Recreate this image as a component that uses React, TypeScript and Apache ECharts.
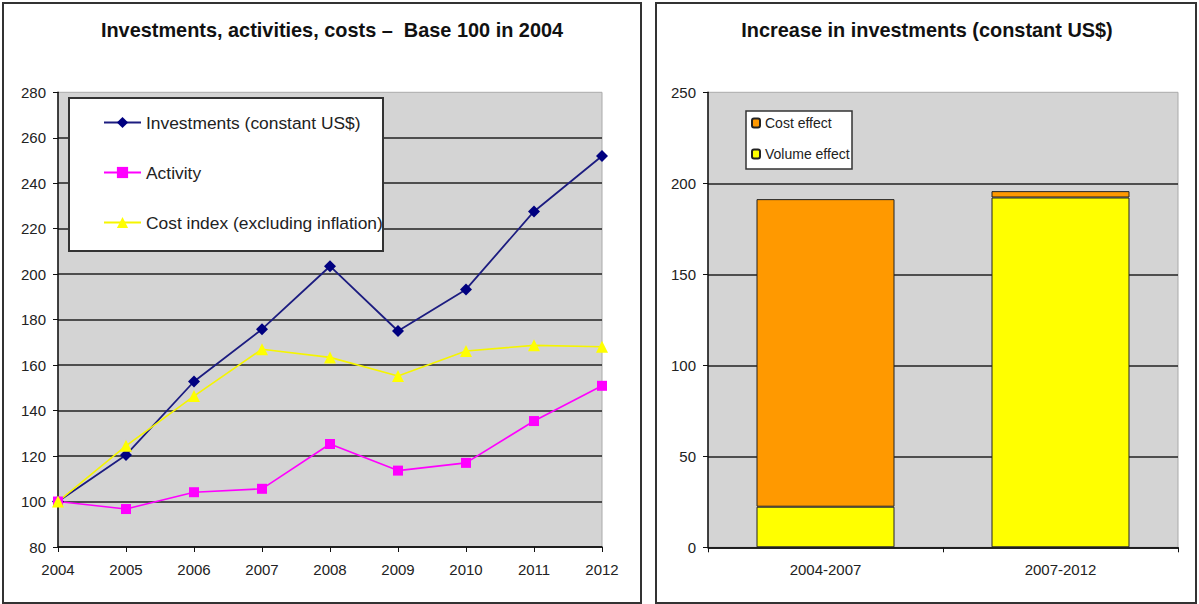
import React, { useEffect, useRef } from "react";
import * as echarts from "echarts";

const years = ["2004", "2005", "2006", "2007", "2008", "2009", "2010", "2011", "2012"];
const investments = [100, 120.5, 152.8, 175.8, 203.5, 175.0, 193.3, 227.6, 252.0];
const activity = [100, 96.7, 104.1, 105.6, 125.3, 113.6, 117.0, 135.4, 150.9];
const costIndex = [100, 124.5, 146.4, 167.0, 163.4, 155.2, 166.2, 168.7, 168.1];

const periods = ["2004-2007", "2007-2012"];
const volumeEffect = [22.3, 192.2];
const costEffect = [169.0, 3.5];

const FONT = 'Arial, "Liberation Sans", sans-serif';
const GRID_DARK = "#222";

export default function App() {
  const ref = useRef<HTMLDivElement>(null);
  useEffect(() => {
    if (!ref.current) return;
    const chart = echarts.init(ref.current, null, { renderer: "svg" });
    const leftSplitColors = Array.from({ length: 11 }, (_, i) => (i === 10 ? "transparent" : GRID_DARK));
    const rightSplitColors = Array.from({ length: 6 }, (_, i) => (i === 5 ? "transparent" : GRID_DARK));
    chart.setOption({
      animation: false,
      backgroundColor: "#fff",
      textStyle: { fontFamily: FONT },
      graphic: [
        {
          type: "rect",
          shape: { x: 3, y: 3, width: 638, height: 600 },
          style: { fill: "none", stroke: "#333", lineWidth: 2 },
          z: 100,
        },
        {
          type: "rect",
          shape: { x: 656, y: 3, width: 540, height: 600 },
          style: { fill: "none", stroke: "#333", lineWidth: 2 },
          z: 100,
        },
        {
          type: "rect",
          shape: { x: 69, y: 98, width: 314, height: 153 },
          style: { fill: "#fff", stroke: "#333", lineWidth: 2 },
          z: 5,
        },
        {
          type: "rect",
          shape: { x: 746, y: 111, width: 106, height: 58 },
          style: { fill: "#fff", stroke: "#333", lineWidth: 1.5 },
          z: 5,
        },
        {
          type: "text",
          x: 332,
          y: 30,
          style: {
            text: "Investments, activities, costs –  Base 100 in 2004",
            fontFamily: FONT,
            fontWeight: "bold",
            fontSize: 19.9,
            fill: "#111",
            textAlign: "center",
            textVerticalAlign: "middle",
          },
        },
        {
          type: "text",
          x: 927,
          y: 30,
          style: {
            text: "Increase in investments (constant US$)",
            fontFamily: FONT,
            fontWeight: "bold",
            fontSize: 19.9,
            fill: "#111",
            textAlign: "center",
            textVerticalAlign: "middle",
          },
        },
      ],
      legend: [
        {
          data: ["Investments (constant US$)", "Activity", "Cost index (excluding inflation)"],
          orient: "vertical",
          left: 103,
          top: 114,
          padding: 0,
          itemWidth: 37,
          itemHeight: 14,
          itemGap: 33,
          textStyle: { fontFamily: FONT, fontSize: 17.4, color: "#222" },
          z: 10,
        },
        {
          data: ["Cost effect", "Volume effect"],
          orient: "vertical",
          left: 751,
          top: 116,
          padding: 0,
          itemWidth: 8,
          itemHeight: 9,
          itemGap: 17,
          textStyle: { fontFamily: FONT, fontSize: 14, color: "#222" },
          z: 10,
        },
      ],
      grid: [
        {
          left: 58,
          right: 597,
          top: 92.3,
          bottom: 57,
          show: true,
          backgroundColor: "#d4d4d4",
          borderColor: "#aaa",
          borderWidth: 1,
        },
        {
          left: 708,
          right: 21,
          top: 92.3,
          bottom: 56.7,
          show: true,
          backgroundColor: "#d4d4d4",
          borderColor: "#aaa",
          borderWidth: 1,
        },
      ],
      xAxis: [
        {
          gridIndex: 0,
          type: "category",
          data: years,
          boundaryGap: false,
          axisLine: { lineStyle: { color: "#111", width: 1.5 } },
          axisTick: { show: true, length: 5, lineStyle: { color: "#111" } },
          axisLabel: { fontFamily: FONT, fontSize: 15, color: "#222", margin: 15 },
          splitLine: { show: false },
        },
        {
          gridIndex: 1,
          type: "category",
          data: periods,
          boundaryGap: true,
          axisLine: { lineStyle: { color: "#111", width: 1.5 } },
          axisTick: { show: true, length: 5, lineStyle: { color: "#111" } },
          axisLabel: { fontFamily: FONT, fontSize: 15, color: "#222", margin: 15 },
          splitLine: { show: false },
        },
      ],
      yAxis: [
        {
          gridIndex: 0,
          type: "value",
          min: 80,
          max: 280,
          interval: 20,
          axisLine: { show: true, lineStyle: { color: "#111", width: 1.5 } },
          axisTick: { show: true, length: 5, lineStyle: { color: "#111" } },
          axisLabel: { fontFamily: FONT, fontSize: 15, color: "#222", margin: 12 },
          splitLine: { show: true, lineStyle: { color: leftSplitColors, width: 1.5 } },
        },
        {
          gridIndex: 1,
          type: "value",
          min: 0,
          max: 250,
          interval: 50,
          axisLine: { show: true, lineStyle: { color: "#111", width: 1.5 } },
          axisTick: { show: true, length: 5, lineStyle: { color: "#111" } },
          axisLabel: { fontFamily: FONT, fontSize: 15, color: "#222", margin: 12 },
          splitLine: { show: true, lineStyle: { color: rightSplitColors, width: 1.5 } },
        },
      ],
      series: [
        {
          name: "Investments (constant US$)",
          type: "line",
          xAxisIndex: 0,
          yAxisIndex: 0,
          data: investments,
          symbol: "diamond",
          symbolSize: 12,
          lineStyle: { color: "#1c1c80", width: 1.8 },
          itemStyle: { color: "#000080" },
        },
        {
          name: "Activity",
          type: "line",
          xAxisIndex: 0,
          yAxisIndex: 0,
          data: activity,
          symbol: "rect",
          symbolSize: 10,
          lineStyle: { color: "#ff00ff", width: 1.6 },
          itemStyle: { color: "#ff00ff" },
        },
        {
          name: "Cost index (excluding inflation)",
          type: "line",
          xAxisIndex: 0,
          yAxisIndex: 0,
          data: costIndex,
          symbol: "triangle",
          symbolSize: 12,
          lineStyle: { color: "#f5f500", width: 1.6 },
          itemStyle: { color: "#ffff00" },
        },
        {
          name: "Volume effect",
          type: "bar",
          xAxisIndex: 1,
          yAxisIndex: 1,
          stack: "inv",
          data: volumeEffect,
          barWidth: 138,
          itemStyle: { color: "#ffff00", borderColor: "#222", borderWidth: 1 },
        },
        {
          name: "Cost effect",
          type: "bar",
          xAxisIndex: 1,
          yAxisIndex: 1,
          stack: "inv",
          data: costEffect,
          barWidth: 138,
          itemStyle: { color: "#ff9900", borderColor: "#222", borderWidth: 1 },
        },
      ],
    });
    return () => chart.dispose();
  }, []);
  return (
    <div
      ref={ref}
      style={{ position: "fixed", left: 0, top: 0, width: 1199, height: 604, background: "#fff" }}
    />
  );
}
